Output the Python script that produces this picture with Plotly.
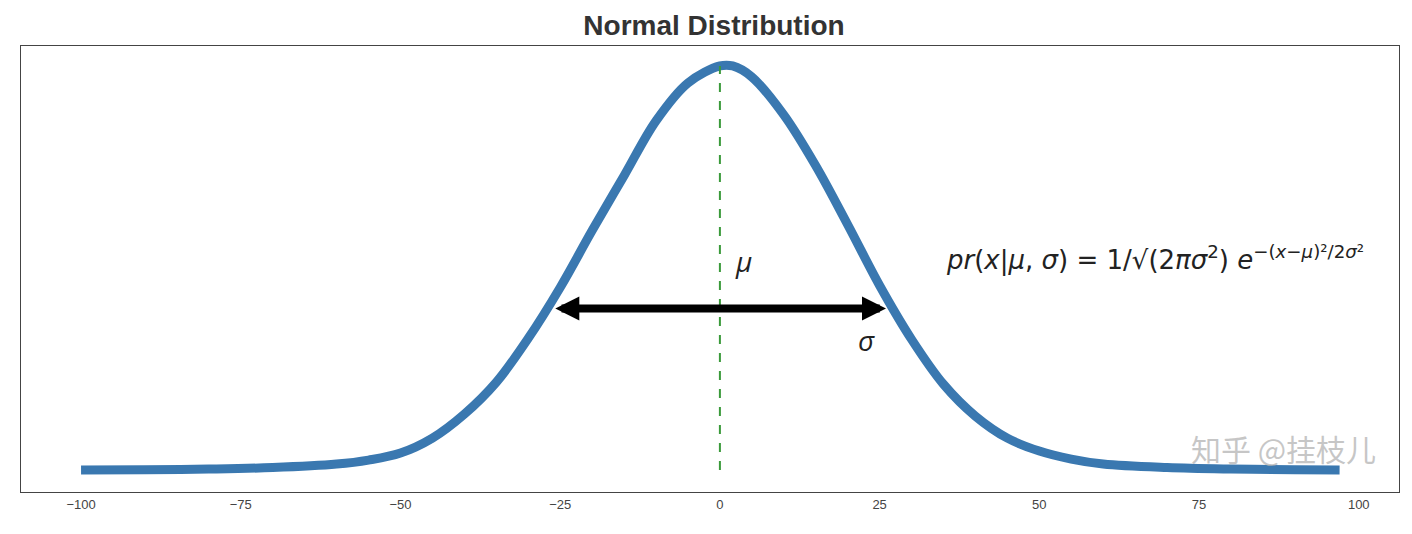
import plotly.graph_objects as go

xs = [-100, -90, -80, -70, -60, -55, -50, -45, -40, -35, -30, -25, -20, -15, -10, -5, 0, 2, 5, 10, 15, 20, 25, 30, 35, 40, 45, 50, 55, 60, 70, 80, 90, 97]
ys = [0, 0.3, 1, 2.5, 6, 10, 17, 32, 56, 88, 132, 183, 240, 295, 350, 388, 405, 405, 394, 356, 305, 246, 185, 131, 86, 54, 32, 19, 11, 6, 2.5, 1, 0.3, 0]
xticks = [-100, -75, -50, -25, 0, 25, 50, 75, 100]
peak = 405
arrow_y = 162
sigma_half = 26

fig = go.Figure()
fig.add_trace(go.Scatter(x=xs, y=ys, mode="lines", line_shape="spline",
                         line=dict(color="#3a78b0", width=9), hoverinfo="skip"))
fig.add_trace(go.Scatter(x=[0, 0], y=[0, peak], mode="lines",
                         line=dict(color="#3a9a3a", width=2, dash="dash"), hoverinfo="skip"))
fig.add_annotation(x=sigma_half, y=arrow_y, ax=-sigma_half, ay=arrow_y,
                   xref="x", yref="y", axref="x", ayref="y", text="",
                   showarrow=True, arrowhead=2, arrowside="end+start",
                   arrowwidth=8, arrowsize=0.6, arrowcolor="black")
fig.add_annotation(x=2, y=210, text="<i>μ</i>", showarrow=False, xanchor="left",
                   font=dict(size=28, color="#222"))
fig.add_annotation(x=23, y=130, text="<i>σ</i>", showarrow=False,
                   font=dict(size=28, color="#222"))
fig.add_annotation(x=35, y=212, xanchor="left",
                   text="<i>pr</i>(<i>x</i>|<i>μ</i>, <i>σ</i>) = 1/√(2<i>πσ</i><sup>2</sup>) <i>e</i><sup>−(<i>x</i>−<i>μ</i>)²/2<i>σ</i>²</sup>",
                   showarrow=False, font=dict(size=26, color="#222", family="DejaVu Sans"))
fig.add_annotation(x=0.985, y=0.045, xref="paper", yref="paper", xanchor="right",
                   text="知乎 @挂枝儿", showarrow=False,
                   font=dict(size=30, color="rgba(180,180,180,0.75)", family="Noto Sans CJK SC"))

fig.update_layout(
    width=1412, height=534, plot_bgcolor="white", paper_bgcolor="white",
    margin=dict(l=13, r=21, t=38, b=50), showlegend=False,
    title=dict(text="<b>Normal Distribution</b>", x=0.5, xanchor="center",
               y=0.968, yanchor="middle",
               font=dict(size=28, color="#333", family="Liberation Sans")),
    xaxis=dict(range=[-109.4, 106.3], tickvals=xticks, ticks="", showgrid=False,
               zeroline=False, showline=True, linecolor="#444", mirror=True,
               tickfont=dict(size=13, color="#444", family="Liberation Sans")),
    yaxis=dict(range=[-22, 425], showticklabels=False, ticks="", showgrid=False,
               zeroline=False, showline=True, linecolor="#444", mirror=True),
)
fig.write_html("out.html")
